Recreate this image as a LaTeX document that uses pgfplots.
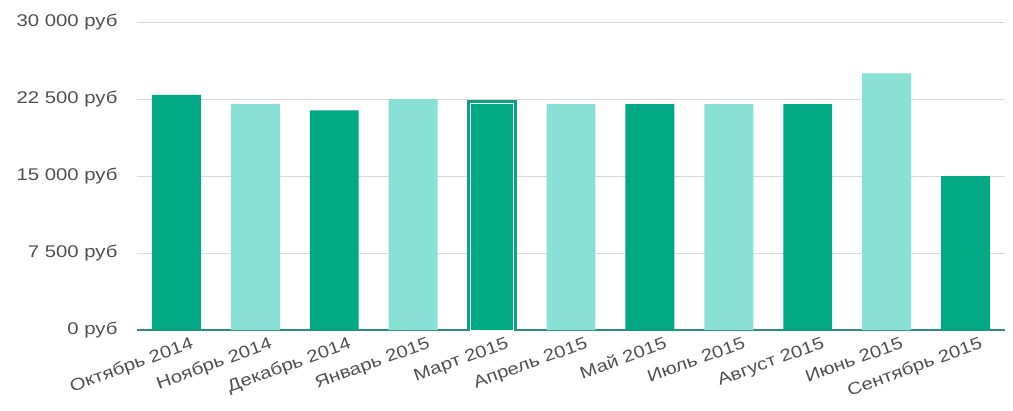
\documentclass[border=0pt]{standalone}
\usepackage{fontspec}
\setmainfont{Liberation Sans}[FakeStretch=1.2]
\usepackage{pgfplots}
\pgfplotsset{compat=1.18}
\definecolor{darkg}{HTML}{00A884}
\definecolor{lightg}{HTML}{89E1D6}
\definecolor{axisg}{HTML}{2A8F7E}
\definecolor{gridg}{HTML}{D9D9D9}
\definecolor{txt}{HTML}{505050}
\begin{document}
\begin{tikzpicture}[x=1bp,y=1bp]
\begin{axis}[
  at={(0,0)}, anchor=south west,
  scale only axis, width=868bp, height=308bp,
  xmin=-0.5, xmax=10.5, ymin=0, ymax=30000,
  axis x line*=bottom, axis y line*=left,
  y axis line style={draw=none},
  x axis line style={axisg, line width=1.4pt, -},
  ytick={0,7500,15000,22500,30000},
  scaled y ticks=false,
  ymajorgrids, grid style={gridg, line width=0.8pt},
  xtick={0,...,10},
  xticklabels={Октябрь 2014,Ноябрь 2014,Декабрь 2014,Январь 2015,Март 2015,Апрель 2015,Май 2015,Июль 2015,Август 2015,Июнь 2015,Сентябрь 2015},
  xticklabel style={rotate=20, anchor=north east, xshift=14bp, yshift=-7bp, font=\fontsize{17}{19}\selectfont, text=txt},
  yticklabel={\pgfmathprintnumber{\tick}~руб},
  yticklabel style={font=\fontsize{17}{19}\selectfont, text=txt, xshift=-16bp},
  /pgf/number format/assume math mode=true,
  /pgf/number format/1000 sep={\ },
  /pgf/number format/fixed,
  major tick length=0pt,
  ybar, bar width=0.62, bar shift=0pt,
  clip=false,
]
\addplot[fill=darkg, draw=none] coordinates {(0,22900) (2,21400) (6,22000) (8,22000) (10,15000)};
\addplot[fill=lightg, draw=none] coordinates {(1,22000) (3,22500) (5,22000) (7,22000) (9,25000)};
\addplot[fill=darkg, draw=axisg, line width=1pt] coordinates {(4,22400)};
\addplot[fill=none, draw=white, line width=0.9pt, bar width=0.54] coordinates {(4,22100)};
\end{axis}
\path (-137,-80) (876,330);
\end{tikzpicture}
\end{document}
